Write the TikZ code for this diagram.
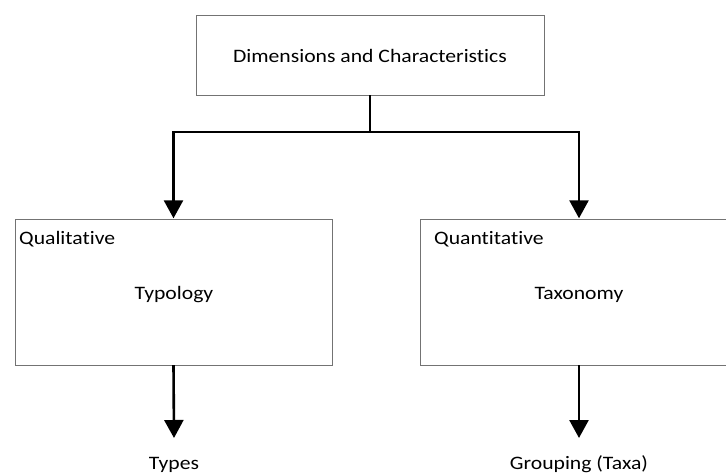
\documentclass[tikz,border=0pt]{standalone}
\usepackage{fontspec}
\setmainfont{Carlito}[FakeStretch=1.14,Ligatures=NoCommon]
\usetikzlibrary{arrows.meta}
\begin{document}
\begin{tikzpicture}[x=1pt,y=-1pt,
  box/.style={draw=black!55,line width=0.9pt,fill=white},
  lbl/.style={font=\fontsize{19}{22}\selectfont,inner sep=0pt,anchor=base},
  conn/.style={line width=2.6pt,black},
  arr/.style={conn,-{Triangle[width=19pt,length=18pt]}}]
\useasboundingbox[fill=white] (0,0) rectangle (726,473);
\begin{scope}
\clip (0,0) rectangle (726,473);
\draw[box] (196,15) rectangle (544,95);
\node[minimum width=348pt,minimum height=80pt,inner sep=0pt] (top) at (370,55) {};
\node[lbl] (toptext) at (370,62.3) {Dimensions and Characteristics};
\draw[box] (15,219) rectangle (332,365);
\node[minimum width=317pt,minimum height=146pt,inner sep=0pt] (left) at (173.5,292) {};
\draw[box] (420,219) rectangle (738,365);
\node[minimum width=318pt,minimum height=146pt,inner sep=0pt] (right) at (579,292) {};
\node[lbl,anchor=base west] (qual) at (19,245) {Qualitative};
\node[lbl] (typo) at (174,300) {Typology};
\node[lbl,anchor=base west] (quant) at (434,245) {Quantitative};
\node[lbl] (taxo) at (579,300) {Taxonomy};
\node[lbl] (types) at (174,469) {Types};
\node[lbl] (group) at (579,469) {Grouping (Taxa)};
\coordinate (j) at (370,132);
\coordinate (tl) at (174,438);
\coordinate (tr) at (579,438);
\draw[conn] (top.south) -- (j);
\draw[arr] (j) -| ([yshift=0.5pt]left.north);
\draw[arr] (j) -| ([yshift=0.5pt]right.north);
\draw[arr] (left.south) -- (tl);
\draw[arr] (right.south) -- (tr);
\end{scope}
\end{tikzpicture}
\end{document}
